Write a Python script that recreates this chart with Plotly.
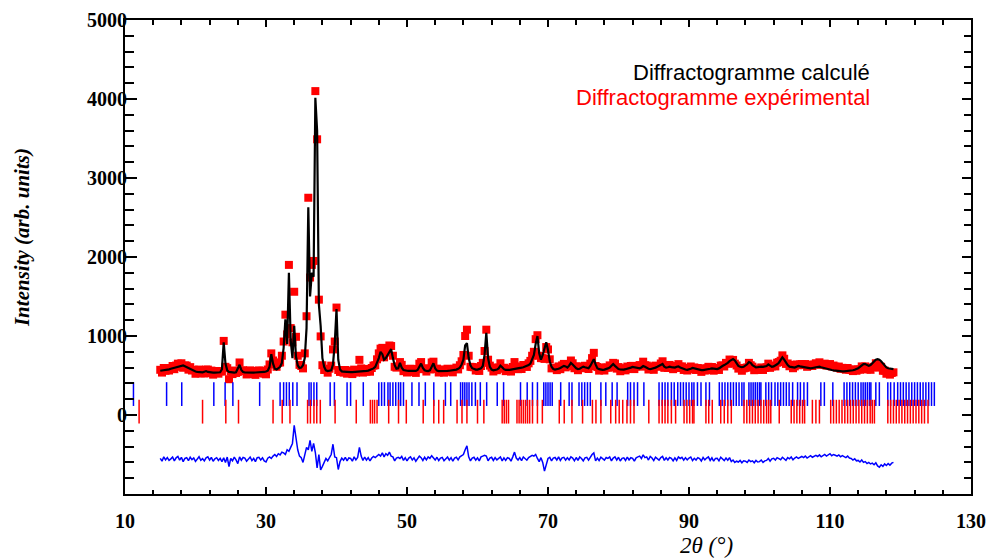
import numpy as np
import plotly.graph_objects as go

# 2theta measurement grid (deg)
TT_START, TT_STEP, TT_END = 15.0, 0.25, 119.0

# Calculated profile, 4 values per degree (x.00, x.25, x.50, x.75), 15.00 .. 119.00
calc_vals = [
    560, 562, 565, 568,  572, 578, 585, 592,  600, 608, 615, 622,  630, 628, 618, 605,
    592, 580, 568, 558,  550, 546, 543, 541,  540, 548, 556, 545,  540, 538, 537, 537,
    537, 538, 541, 580,  920, 650, 565, 545,  540, 538, 537, 540,  600, 635, 570, 545,
    540, 538, 537, 537,  537, 537, 538, 538,  539, 540, 542, 545,  550, 562, 610, 770,
    650, 585, 575, 590,  610, 660, 850, 1210, 900, 1800, 950, 720, 1130, 740, 630, 595,
    600, 630, 720, 1100, 2630, 1500, 1800, 1750, 4015, 3600, 1400, 1130, 720, 610, 565, 556,
    556, 565, 640, 900,  1340, 700, 575, 552, 548, 545, 543, 542,  542, 543, 544, 545,
    547, 548, 550, 552,  555, 558, 562, 570,  580, 590, 610, 660,  720, 800, 770, 700,
    720, 760, 790, 833,  720, 630, 585, 590,  660, 600, 570, 562,  560, 558, 556, 555,
    555, 558, 570, 610,  650, 595, 566, 558,  556, 565, 620, 655,  590, 562, 556, 555,
    555, 556, 557, 558,  560, 562, 565, 570,  575, 585, 600, 640,  700, 880, 910, 720,
    630, 592, 580, 575,  575, 580, 590, 620,  760, 1040, 720, 610, 575, 566, 568, 575,
    590, 625, 605, 580,  570, 568, 570, 575,  578, 580, 585, 590,  595, 600, 605, 612,
    620, 632, 650, 700,  760, 900, 1000, 780, 700, 760, 860, 920,  820, 680, 610, 582,
    575, 578, 585, 595,  610, 622, 615, 600,  625, 660, 640, 612,  592, 582, 586, 600,
    612, 605, 596, 592,  620, 660, 707, 640,  592, 580, 575, 572,  575, 580, 590, 600,
    622, 645, 622, 597,  582, 576, 573, 575,  580, 585, 590, 600,  610, 606, 596, 590,
    592, 602, 620, 610,  596, 586, 580, 585,  590, 600, 610, 622,  632, 645, 612, 600,
    605, 612, 606, 600,  600, 610, 616, 602,  590, 582, 576, 571,  575, 586, 596, 590,
    580, 575, 570, 568,  568, 570, 575, 580,  585, 590, 586, 580,  582, 590, 600, 620,
    632, 645, 660, 682,  700, 707, 690, 652,  622, 610, 605, 610,  622, 642, 670, 660,
    632, 612, 602, 605,  610, 612, 610, 615,  620, 640, 622, 610,  615, 625, 642, 662,
    692, 730, 702, 662,  632, 612, 605, 600,  600, 610, 620, 615,  610, 612, 605, 595,
    590, 590, 595, 600,  605, 610, 612, 605,  598, 590, 585, 580,  575, 570, 566, 562,
    560, 558, 555, 552,  552, 553, 555, 558,  562, 566, 572, 580,  592, 608, 625, 645,
    645, 632, 622, 632,  652, 680, 700, 707,  700, 680, 650, 622,  602, 592, 586, 582,
    580,
]

diff_vals = [
    12, -25, 30, -8,  22, -15, 5, 28,  -20, 18, 35, -12,  25, -30, 10, 20,
    -18, 26, -5, 15,  -28, 10, 32, -14,  8, -22, 18, 30,  -10, 24, -26, 6,
    20, -15, 12, -30,  18, -40, 28, -92,  10, -20, 26, -8,  -55, 30, -12, 22,
    15, -25, 8, 28,  -18, 12, -30, 20,  25, -10, 18, -22,  -35, 14, 30, 10,
    40, 60, 35, 70,  55, 90, 80, 60,  120, 100, 150, 200,  430, 250, 120, 40,
    20, -40, 60, 150,  120, 240, 100, 200,  85, -110, 60, -135,  -90, -40, 10, -20,
    30, 60, 190, 30,  20, -130, -30, 15,  -12, 25, -20, 18,  10, -25, 30, -8,
    22, 150, 40, -15,  28, -10, 20, -22,  15, 35, 20, 45,  60, 40, 80, 30,
    70, 50, 90, 40,  30, -20, 15, 25,  10, 35, -15, 20,  -22, 15, 30, -10,
    18, -25, 12, 40,  20, -15, 25, -8,  30, 12, 45, 20,  -10, 25, -18, 15,
    22, -20, 10, 28,  -12, 20, -25, 15,  25, -8, 30, 40,  60, 120, 170, 30,
    -20, 15, 25, -12,  18, -22, 30, 40,  50, 40, -20, 15,  25, -15, 20, -8,
    12, 30, -20, 18,  -15, 20, 10, -25,  30, 90, 15, -10,  20, -18, 28, 10,
    -12, 22, 35, 50,  40, 60, 10, -30,  20, -40, -150, -60,  10, 25, -20, 15,
    22, -10, 30, -15,  18, 25, -12, 20,  -8, 30, 15, -20,  22, -15, 28, 10,
    -20, 18, 25, -10,  30, 60, 80, -20,  15, -18, 25, 8,  -12, 22, 10, 28,
    -20, 15, 30, -10,  25, -22, 12, 18,  -15, 28, -8, 20,  12, -25, 18, 30,
    40, 10, 55, 20,  30, -10, 35, 15,  -18, 25, 10, -12,  20, 35, -15, 18,
    -10, 22, 12, -20,  18, -15, 28, 10,  25, -12, 20, -8,  15, 28, -18, 12,
    -10, 20, 8, -22,  22, -8, 15, 30,  -15, 18, -25, 10,  12, -20, 25, 8,
    -18, 15, -12, 20,  -30, -10, -40, -25,  -35, -15, -45, -20,  -25, -40, -10, -30,
    -20, -45, -15, -35,  -30, -10, -40, -20,  -15, 10, -25, 5,  12, -10, 20, 8,
    -5, 25, 10, -15,  20, 5, 28, -8,  15, 30, 10, 25,  35, 20, 40, 15,
    30, 45, 25, 40,  50, 35, 55, 30,  45, 60, 40, 55,  70, 45, 60, 50,
    40, 55, 30, 45,  35, 20, 40, 15,  10, -10, 5, -20,  -15, -35, -10, -40,
    -30, -55, -40, -60,  -50, -70, -45, -85,  -100, -70, -90, -60,  -80, -55, -75, -50,
    -40,
]

DIFF_OFFSET = -560

# Bragg reflection positions (2theta) for the two phases
bragg_phase1 = [
    11.2, 15.9, 18.05, 22.6, 24.2, 25.3, 29.1, 32.0, 32.5, 32.9, 33.3, 33.8, 34.4,
    36.1, 36.4, 36.8, 37.2, 39.1, 39.7, 41.5, 42.0, 43.8, 46.0, 46.4, 46.8, 47.3,
    47.6, 48.0, 48.4, 48.8, 49.1, 49.5, 50.7, 51.7, 52.6, 53.8, 55.45, 56.2, 57.6,
    57.9, 58.2, 58.5, 58.8, 59.2, 59.7, 60.4, 61.3, 62.8, 63.7, 66.1, 67.05, 67.8,
    68.5, 69.4, 69.7, 70.0, 70.3, 70.6, 71.8, 73.0, 73.4, 74.4, 74.8, 75.2, 75.6,
    76.0, 77.5, 78.2, 79.1, 79.8, 81.3, 81.7, 82.2, 82.7, 83.6, 85.75, 86.2, 86.6,
    87.0, 87.5, 87.9, 88.4, 88.8, 89.2, 89.6, 90.0, 90.4, 90.7, 91.2, 91.7, 92.4,
    92.9, 94.3, 94.7, 95.1, 95.5, 95.9, 96.3, 96.7, 97.1, 97.5, 97.8, 98.5, 98.8,
    99.1, 99.4, 99.7, 100.0, 100.2, 100.9, 101.3, 101.7, 102.2, 102.6, 103.0, 103.4,
    103.8, 104.2, 104.7, 105.4, 105.8, 106.3, 106.8, 108.7, 109.2, 110.4, 112.0,
    112.4, 112.8, 113.2, 113.6, 114.0, 114.4, 114.7, 115.0, 115.3, 115.6, 115.8,
    116.5, 117.0, 118.2, 118.6, 119.1, 119.6, 120.0, 120.4, 120.8, 121.2, 121.6,
    122.0, 122.4, 122.8, 123.2, 123.6, 124.0, 124.4, 124.8,
]
bragg_phase2 = [
    12.0, 21.0, 24.3, 26.1, 31.0, 32.3, 33.4, 35.9, 36.3, 36.8, 37.2, 37.7, 39.8,
    42.8, 44.8, 45.1, 45.4, 45.75, 47.4, 48.8, 49.9, 52.3, 53.8, 54.5, 55.2, 57.1,
    57.8, 58.5, 60.0, 60.9, 63.5, 63.8, 64.1, 64.4, 65.6, 65.9, 66.2, 66.5, 66.8,
    67.1, 67.4, 67.8, 68.5, 69.2, 71.6, 72.3, 73.4, 74.9, 76.3, 76.8, 77.5, 78.9,
    79.6, 80.1, 80.6, 81.2, 81.7, 82.2, 84.3, 85.75, 86.2, 86.6, 87.0, 87.5, 88.1,
    89.3, 89.7, 90.1, 90.5, 90.7, 92.4, 92.8, 93.3, 94.5, 95.0, 95.5, 96.0, 97.8,
    98.2, 98.6, 99.0, 99.4, 99.8, 100.2, 100.6, 101.0, 101.3, 101.6, 102.8, 104.5,
    104.9, 105.3, 105.7, 106.1, 106.4, 107.5, 108.0, 108.5, 110.1, 110.5, 110.9,
    111.3, 111.7, 112.1, 112.5, 112.9, 113.3, 113.7, 114.1, 114.5, 114.9, 115.3,
    115.7, 116.0, 116.3, 118.2, 118.6, 119.0, 119.4, 119.8, 120.2, 120.6, 121.0,
    121.4, 121.8, 122.2, 122.6, 123.0, 123.4, 123.9,
]
BRAGG1_LEVEL = 265
BRAGG2_LEVEL = 42

x_ticks = [10, 30, 50, 70, 90, 110, 130]
y_ticks = [0, 1000, 2000, 3000, 4000, 5000]

two_theta = np.round(np.arange(TT_START, TT_END + TT_STEP / 2, TT_STEP), 2)
calc = np.array(calc_vals, dtype=float)
diff = np.array(diff_vals, dtype=float)
obs = calc + diff
diff_curve = obs - calc + DIFF_OFFSET

fig = go.Figure()
fig.add_trace(go.Scatter(x=two_theta, y=obs, mode="markers",
                         marker=dict(symbol="square", size=8, color="#ff0000", line=dict(width=0)),
                         showlegend=False))
fig.add_trace(go.Scatter(x=two_theta, y=calc, mode="lines",
                         line=dict(color="black", width=2.2), showlegend=False))
fig.add_trace(go.Scatter(x=two_theta, y=diff_curve, mode="lines",
                         line=dict(color="#0000ff", width=1.5), showlegend=False))
fig.add_trace(go.Scatter(x=bragg_phase1, y=[BRAGG1_LEVEL] * len(bragg_phase1), mode="markers",
                         marker=dict(symbol="line-ns", size=17, line=dict(color="#0000ff", width=1.5)),
                         showlegend=False))
fig.add_trace(go.Scatter(x=bragg_phase2, y=[BRAGG2_LEVEL] * len(bragg_phase2), mode="markers",
                         marker=dict(symbol="line-ns", size=17, line=dict(color="#ff0000", width=1.5)),
                         showlegend=False))
# invisible trace to activate top/right axes
fig.add_trace(go.Scatter(x=[10], y=[0], xaxis="x2", yaxis="y2", mode="markers",
                         marker=dict(opacity=0), showlegend=False, hoverinfo="skip"))

tickfont = dict(family="Liberation Serif", size=20, color="black", weight="bold")

# page body adds an 8px offset; figure sized to fit the 995x559 window
fig.update_layout(
    width=987, height=551,
    margin=dict(l=117, r=24, t=12, b=65, autoexpand=False),
    paper_bgcolor="white", plot_bgcolor="white",
    xaxis=dict(range=[10, 130], tickvals=x_ticks, ticktext=[str(v) for v in x_ticks],
               ticks="inside", ticklen=7, tickwidth=2, tickcolor="black",
               minor=dict(dtick=4, tick0=10, ticks="inside", ticklen=4, tickwidth=1.5, tickcolor="black"),
               showline=True, linewidth=2, linecolor="black", showgrid=False, zeroline=False,
               tickfont=tickfont, ticklabelstandoff=8, automargin=False),
    yaxis=dict(range=[-1000, 5000], tickvals=y_ticks, ticktext=[str(v) for v in y_ticks],
               ticks="inside", ticklen=12, tickwidth=2, tickcolor="black",
               minor=dict(dtick=200, tick0=0, ticks="inside", ticklen=9, tickwidth=1.5, tickcolor="black"),
               showline=True, linewidth=2, linecolor="black", showgrid=False, zeroline=False,
               tickfont=tickfont, ticklabelstandoff=-8, automargin=False),
    xaxis2=dict(range=[10, 130], overlaying="x", side="top", tickvals=x_ticks, showticklabels=False,
                ticks="inside", ticklen=7, tickwidth=2, tickcolor="black",
                minor=dict(dtick=4, tick0=10, ticks="inside", ticklen=5, tickwidth=1.5, tickcolor="black"),
                showline=True, linewidth=2, linecolor="black", showgrid=False, zeroline=False,
                automargin=False),
    yaxis2=dict(range=[-1000, 5000], overlaying="y", side="right", tickvals=y_ticks, showticklabels=False,
                ticks="inside", ticklen=9, tickwidth=2, tickcolor="black",
                minor=dict(dtick=200, tick0=0, ticks="inside", ticklen=7, tickwidth=1.5, tickcolor="black"),
                showline=True, linewidth=2, linecolor="black", showgrid=False, zeroline=False,
                automargin=False),
    showlegend=False,
)

fig.add_annotation(text="Intensity (arb. units)", xref="paper", yref="paper",
                   x=-0.1218, y=0.542, textangle=-90, showarrow=False,
                   xanchor="center", yanchor="middle",
                   font=dict(family="Liberation Serif", size=21, color="black", style="italic", weight="bold"))
fig.add_annotation(text="2θ (°)", xref="paper", yref="paper",
                   x=0.687, y=-0.1097, showarrow=False, xanchor="center", yanchor="middle",
                   font=dict(family="Liberation Serif", size=23, color="black", style="italic"))
fig.add_annotation(text="Diffractogramme calculé", xref="paper", yref="paper",
                   x=0.883, y=0.890, showarrow=False, xanchor="right", yanchor="middle",
                   font=dict(family="Liberation Sans", size=22, color="black"))
fig.add_annotation(text="Diffractogramme expérimental", xref="paper", yref="paper",
                   x=0.883, y=0.8355, showarrow=False, xanchor="right", yanchor="middle",
                   font=dict(family="Liberation Sans", size=22, color="#ff0000"))

fig.write_html("out.html")
